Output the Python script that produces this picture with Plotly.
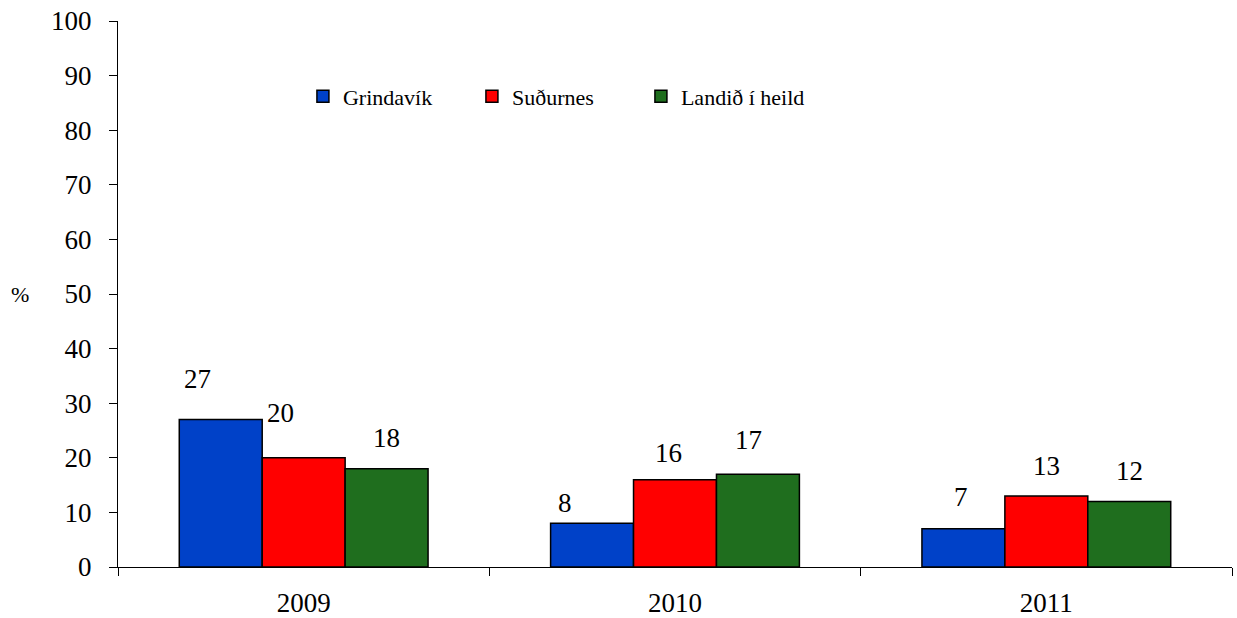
import plotly.graph_objects as go

years = ["2009", "2010", "2011"]
series_names = ["Grindavík", "Suðurnes", "Landið í heild"]
grindavik = [27, 8, 7]
sudurnes = [20, 16, 13]
landid = [18, 17, 12]
y_ticks = [0, 10, 20, 30, 40, 50, 60, 70, 80, 90, 100]

colors = ["#0041C8", "#FF0000", "#1F6E1E"]
# label offsets (px) relative to bar top, to mimic reference label placement
label_dx = [[-23, -27, -2], [-23, -7, 0], [0, -10, 0]]
label_dy = [[41, 20, 32], [45, 27, 30], [31, 34, 30]]

FONT = "Liberation Serif"
W, H = 1237, 618
# plot area in page pixels: x 118..1232, y 21..567
ML, MR, MT, MB = 118, 5, 21, 51

fig = go.Figure()
all_vals = [grindavik, sudurnes, landid]
for name, vals, col in zip(series_names, all_vals, colors):
    fig.add_trace(go.Bar(
        x=years, y=vals, name=name,
        marker=dict(color=col, line=dict(color="black", width=1.5)),
    ))

for si, vals in enumerate(all_vals):
    for ci, v in enumerate(vals):
        fig.add_annotation(
            x=ci, y=v, xref="x", yref="y", text=str(v), showarrow=False,
            xanchor="center", yanchor="middle",
            xshift=(si - 1) * 83 + label_dx[si][ci], yshift=label_dy[si][ci],
            font=dict(family=FONT, size=27, color="black"),
        )

pa_w = W - ML - MR
pa_h = H - MT - MB
fig.add_annotation(
    x=(20 - ML) / pa_w, y=(H - MB - 294) / pa_h, xref="paper", yref="paper",
    xanchor="center", yanchor="middle",
    text="%", showarrow=False,
    font=dict(family=FONT, size=22, color="black"),
)

fig.update_layout(
    width=W, height=H,
    margin=dict(l=ML, r=MR, t=MT, b=MB, autoexpand=False),
    paper_bgcolor="white", plot_bgcolor="white",
    barmode="group", bargap=0.33, bargroupgap=0,
    font=dict(family=FONT, size=27, color="black"),
    legend=dict(
        orientation="h", x=0.166, y=0.862, xanchor="left", yanchor="middle",
        font=dict(family=FONT, size=22, color="black"),
        bgcolor="rgba(0,0,0,0)", entrywidth=124, entrywidthmode="pixels",
        itemwidth=30,
    ),
    xaxis=dict(
        type="category", showline=True, linecolor="black", linewidth=1,
        ticks="outside", ticklen=8, tickcolor="black", tickson="boundaries",
        showgrid=False, ticklabelstandoff=12, automargin=False,
        ticklabeloverflow="allow",
        tickfont=dict(family=FONT, size=27, color="black"),
    ),
    yaxis=dict(
        range=[0, 100], tickvals=y_ticks, showline=True, linecolor="black",
        linewidth=1, ticks="outside", ticklen=8, tickcolor="black",
        showgrid=False, zeroline=False, ticklabelstandoff=12, automargin=False,
        ticklabeloverflow="allow",
        tickfont=dict(family=FONT, size=27, color="black"),
    ),
)

# remove the browser's default 8px body margin so the figure fills the window
fig.write_html(
    "out.html",
    config={"displayModeBar": False},
    post_script="document.body.style.margin='0';document.body.style.overflow='hidden';",
)
